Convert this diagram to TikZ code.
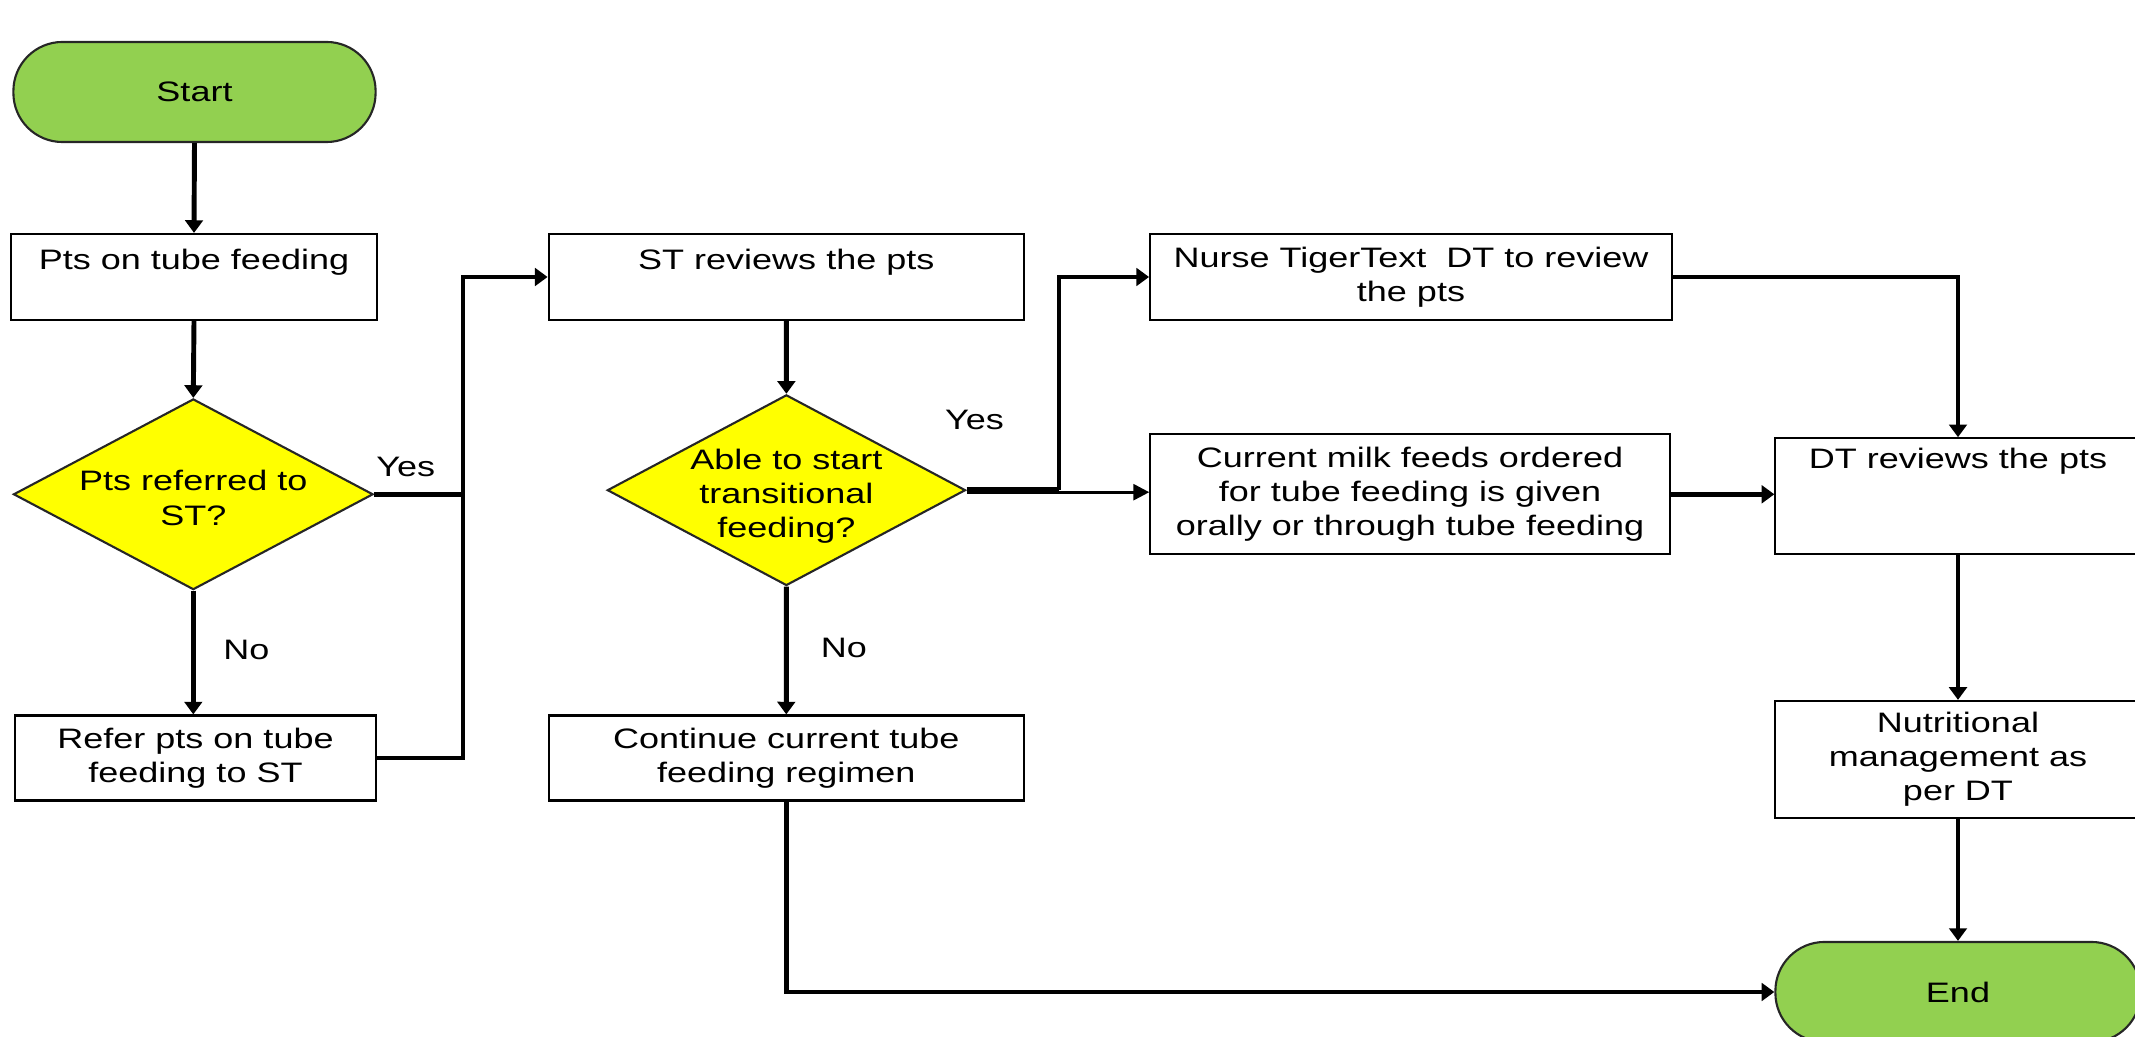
\documentclass[tikz,border=0pt]{standalone}
\usepackage{fontspec}
\setmainfont{Liberation Sans}[FakeStretch=1.28]
\usetikzlibrary{shapes.geometric,arrows.meta}
\definecolor{termgreen}{HTML}{92D050}
\definecolor{decyellow}{HTML}{FFFF00}
\tikzset{
  every node/.style={font=\fontsize{8}{9.7}\selectfont, align=center},
  term/.style={rectangle, rounded corners=0.49cm, draw=black!85, line width=0.6pt, fill=termgreen, inner sep=0pt},
  procbox/.style={rectangle, draw=black, line width=0.6pt, fill=white, inner sep=0pt},
  decbox/.style={diamond, draw=black!85, line width=0.6pt, fill=decyellow, inner sep=0pt},
  txt/.style={inner sep=0pt},
  conn/.style={line width=1.4pt, draw=black},
  arr/.style={conn, -{Triangle[length=3.6pt,width=5pt]}},
  thinarr/.style={line width=0.8pt, draw=black, -{Triangle[length=4.5pt,width=4.5pt]}},
}
\begin{document}
\begin{tikzpicture}[x=0.01cm, y=-0.01cm]
\useasboundingbox (0,0) rectangle (2135,1037);
\clip (0,0) rectangle (2135,1037);

% left column
\node[term, minimum width=3.62cm, minimum height=1.0cm] (start) at (194.5,92) {Start};
\node[procbox, minimum width=3.66cm, minimum height=0.86cm] (pts) at (194,277) {};
\node[txt] (ptst) at (194,262) {Pts on tube feeding};
\node[decbox, minimum width=3.594cm, minimum height=1.906cm] (d1) at (193.3,494.3) {};
\node[txt] (d1t) at (193.3,498) {Pts referred to\\ST?};
\node[procbox, minimum width=3.61cm, minimum height=0.85cm] (refer) at (195.5,758) {Refer pts on tube\\feeding to ST};

% middle column
\node[procbox, minimum width=4.75cm, minimum height=0.86cm] (st) at (786.3,277) {};
\node[txt] (stt) at (786.3,262) {ST reviews the pts};
\node[decbox, minimum width=3.58cm, minimum height=1.906cm] (d2) at (786.4,490.2) {};
\node[txt] (d2t) at (786.4,496) {Able to start\\transitional\\feeding?};
\node[procbox, minimum width=4.75cm, minimum height=0.85cm] (cont) at (786.3,758) {Continue current tube\\feeding regimen};

% third column
\node[procbox, minimum width=5.215cm, minimum height=0.86cm] (nurse) at (1411,277) {Nurse TigerText\ \ DT to review\\the pts};
\node[procbox, minimum width=5.19cm, minimum height=1.2cm] (current) at (1410,494.3) {Current milk feeds ordered\\for tube feeding is given\\orally or through tube feeding};

% right column
\node[procbox, minimum width=3.65cm, minimum height=1.16cm] (dt) at (1958,496.3) {};
\node[txt] (dtt) at (1958,461) {DT reviews the pts};
\node[procbox, minimum width=3.65cm, minimum height=1.17cm] (nutr) at (1958,759.5) {Nutritional\\management as\\per DT};
\node[term, minimum width=3.65cm, minimum height=1.0cm] (end) at (1958,992) {End};

% labels
\node[txt] (yes1) at (405.8,467) {Yes};
\node[txt] (yes2) at (974.5,420) {Yes};
\node[txt] (no1) at (246.4,649.5) {No};
\node[txt] (no2) at (844,648) {No};

% junctions
\coordinate (j1) at (463,494.3);
\coordinate (j1t) at (463,277);
\coordinate (j2) at (1059,490.2);

% connectors
\draw[arr] (start.south) -- (pts.north);
\draw[arr] (pts.south) -- (d1.north);
\draw[arr] (d1.south) -- (d1.south |- refer.north);
\draw[conn] (d1.east) -- (j1);
\draw[arr] (refer.east) -| (j1t) -- (st.west);
\draw[arr] (st.south) -- (d2.north);
\draw[arr] (d2.south) -- (cont.north);
\draw[thinarr] ([yshift=-0.02cm]d2.east) -- ([yshift=-0.02cm]d2.east -| current.west);
\draw[line width=1.8pt] (d2.east) -- (j2);
\draw[arr] (j2) |- (nurse.west);
\draw[arr] (nurse.east) -| (dt.north);
\draw[arr] (current.east) -- (current.east -| dt.west);
\draw[arr] (dt.south) -- (nutr.north);
\draw[arr] (nutr.south) -- (end.north);
\draw[arr] (cont.south) |- (end.west);
\end{tikzpicture}
\end{document}
